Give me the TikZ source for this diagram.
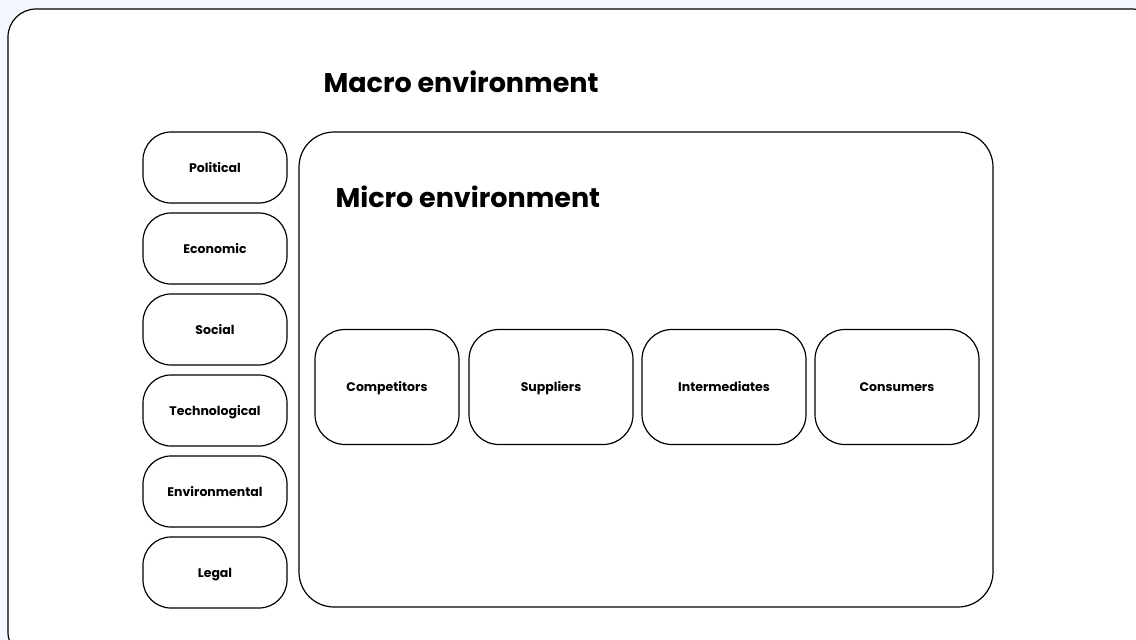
\documentclass[tikz,border=0pt]{standalone}
\usepackage{fontspec}
\setmainfont{Poppins}
\usepackage{tikz}
\usetikzlibrary{positioning}
\definecolor{paleblue}{HTML}{F3F7FE}

\begin{document}
\begin{tikzpicture}[x=1pt,y=-1pt,line width=1.2pt,
sidebox/.style={draw,rounded corners=28pt,minimum width=144pt,minimum height=71pt,inner sep=0pt,outer sep=0pt,text height=9pt,text depth=0pt,font=\fontsize{12.5}{14}\selectfont\bfseries},
microbox/.style={draw,rounded corners=30pt,minimum width=164pt,minimum height=115pt,inner sep=0pt,outer sep=0pt,text height=9pt,text depth=0pt,font=\fontsize{12.5}{14}\selectfont\bfseries},
title/.style={anchor=west,inner sep=0pt,font=\fontsize{27}{30}\selectfont\bfseries}]

% page
\useasboundingbox (0,0) rectangle (1136,640);
\fill[paleblue] (0,0) rectangle (1136,640);
\clip (0,0) rectangle (1136,640);
\draw[fill=white,rounded corners=28pt] (8,9) rectangle (1160,660);

% titles
\node[title] (macro) at (323,82) {Macro environment};

% macro factors
\node[sidebox] (political) at (215,167.5) {Political};
\node[sidebox,below=10pt of political] (economic) {Economic};
\node[sidebox,below=10pt of economic] (social) {Social};
\node[sidebox,below=10pt of social] (technological) {Technological};
\node[sidebox,below=10pt of technological] (environmental) {Environmental};
\node[sidebox,below=10pt of environmental] (legal) {Legal};

% micro environment
\node[draw,rounded corners=35pt,minimum width=694pt,minimum height=475pt,inner sep=0pt,outer sep=0pt] (micro) at (646,369.5) {};
\node[title] (microtitle) at (335,197) {Micro environment};

\node[microbox,minimum width=144pt] (competitors) at (387,387) {Competitors};
\node[microbox,right=10pt of competitors] (suppliers) {Suppliers};
\node[microbox,right=9pt of suppliers] (intermediates) {Intermediates};
\node[microbox,right=9pt of intermediates] (consumers) {Consumers};

\end{tikzpicture}
\end{document}
